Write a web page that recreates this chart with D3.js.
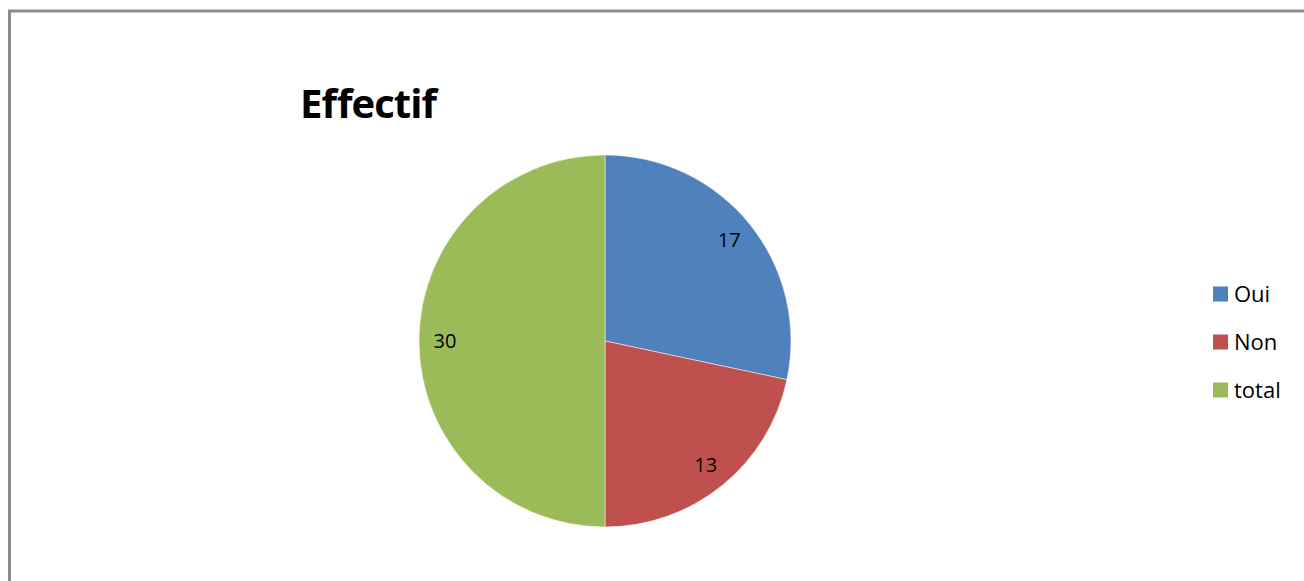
<!DOCTYPE html>
<html>
<head>
<meta charset="utf-8">
<script src="https://cdn.jsdelivr.net/npm/d3@7"></script>
<style>
  html, body { margin: 0; padding: 0; background: #fff; }
  svg { display: block; }
</style>
</head>
<body>
<svg id="chart" width="1304" height="581"></svg>
<script>
// Chart data
const categories = ["Oui", "Non", "total"];
const values = [17, 13, 30];
const colors = ["#4f81bd", "#c0504d", "#9bbb59"];
const title = "Effectif";

const svg = d3.select("#chart");
const W = 1304, H = 581;

// Chart frame
svg.append("rect")
  .attr("x", 9.5).attr("y", 11)
  .attr("width", W + 20).attr("height", H + 20)
  .attr("fill", "#fff")
  .attr("stroke", "#8c8c8c")
  .attr("stroke-width", 3);

// Title
svg.append("text")
  .attr("x", 300).attr("y", 118)
  .attr("font-family", "'Open Sans', 'Liberation Sans', sans-serif")
  .attr("font-weight", "bold")
  .attr("font-size", 40)
  .attr("textLength", 137)
  .attr("fill", "#000")
  .text(title);

// Pie
const cx = 605, cy = 341, r = 186;
const data = categories.map((c, i) => ({ cat: c, value: values[i], color: colors[i] }));
const pie = d3.pie().sort(null).value(d => d.value);
const arcs = pie(data);
const arc = d3.arc().innerRadius(0).outerRadius(r);
const labelArc = d3.arc().innerRadius(r * 0.86).outerRadius(r * 0.86);

const g = svg.append("g").attr("transform", `translate(${cx},${cy})`);
g.selectAll("path.slice")
  .data(arcs)
  .join("path")
  .attr("class", "slice")
  .attr("d", arc)
  .attr("fill", d => d.data.color)
  .attr("stroke", "#fff")
  .attr("stroke-width", 0.5);

g.selectAll("text.lbl")
  .data(arcs)
  .join("text")
  .attr("class", "lbl")
  .attr("transform", d => `translate(${labelArc.centroid(d)})`)
  .attr("text-anchor", "middle")
  .attr("dy", "0.35em")
  .attr("font-family", "'Open Sans', 'Liberation Sans', sans-serif")
  .attr("font-size", 20)
  .attr("fill", "#000")
  .text(d => d.data.value);

// Legend
const legendY = d3.scalePoint().domain(categories).range([294, 390]);
const leg = svg.append("g");
const items = leg.selectAll("g.item")
  .data(data)
  .join("g")
  .attr("class", "item")
  .attr("transform", d => `translate(1213,${legendY(d.cat)})`);
items.append("rect")
  .attr("x", 0).attr("y", -7.5)
  .attr("width", 15).attr("height", 15)
  .attr("fill", d => d.color);
items.append("text")
  .attr("x", 21).attr("dy", "0.36em")
  .attr("font-family", "'Open Sans', 'Liberation Sans', sans-serif")
  .attr("font-size", 22)
  .attr("fill", "#000")
  .text(d => d.cat);
</script>
</body>
</html>
